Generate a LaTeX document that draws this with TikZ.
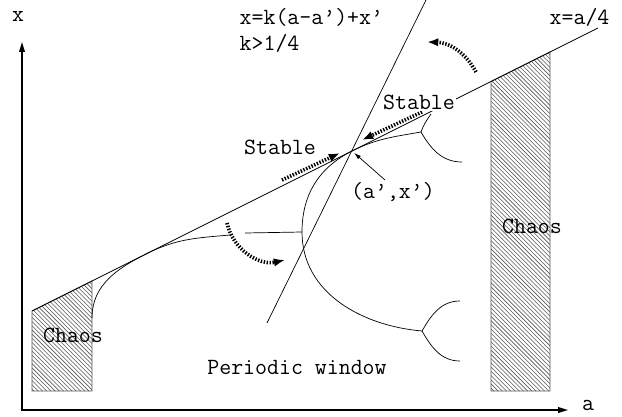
\documentclass[tikz,border=0pt]{standalone}
\usepackage{fontspec}
\usetikzlibrary{arrows.meta}
\usetikzlibrary{patterns}

\begin{document}
\begin{tikzpicture}[
    x=0.025cm, y=0.025cm,
    tag/.style={font=\ttfamily\fontsize{16.5}{18}\selectfont, inner sep=1pt},
    branch/.style={line width=0.5pt},
    axisline/.style={{Triangle[length=7pt,width=4pt]}-{Triangle[length=7pt,width=4pt]}, line width=0.9pt},
    chaosbox/.style={draw=black!65, line width=0.6pt, pattern=north west lines, pattern color=black!65},
    drift/.style={-{Latex[length=8pt,width=6pt]}, line width=2.6pt, dash pattern=on 1pt off 1.1pt},
    pointer/.style={-{Latex[length=5pt,width=3pt]}, line width=0.5pt, shorten >=2pt}
  ]
  \useasboundingbox (0,0) rectangle (622,416);
  \coordinate (o) at (22,6);
  \coordinate (ytip) at (22,374);
  \coordinate (xtip) at (568,6);
  \draw[axisline] (ytip) -- (o) -- (xtip);
  \node[tag] (xlab) at (18,399) {x};
  \node[tag] (alab) at (588,11) {a};

  \draw[chaosbox] (32,25) -- (32,105) -- (92,135) -- (92,25) -- cycle;
  \draw[chaosbox] (491,25) -- (491,334.5) -- (550,364) -- (550,25) -- cycle;

  \coordinate (lstart) at (32,105);
  \coordinate (lend) at (598,388);
  \coordinate (p) at (352,265);
  \coordinate (ktop) at (426,416);
  \coordinate (kbot) at (267,93);
  \draw[branch] (lstart) -- (lend);
  \draw[branch] (kbot) -- (ktop);

  \coordinate (c0) at (92,98);
  \coordinate (c1) at (147,162.5);
  \coordinate (c2) at (230,181);
  \coordinate (s0) at (245,183);
  \coordinate (v) at (302,184);
  \coordinate (u) at (421,284);
  \coordinate (d) at (422,85);
  \draw[branch] (c0) to[out=90,in=206.6] (c1) to[out=26.6,in=185] (c2);
  \draw[branch] (s0) -- (v);
  \draw[branch] (v) to[out=90,in=206.6] (p) to[out=26.6,in=190] (u);
  \draw[branch] (v) to[out=-90,in=175] (d);
  \draw[branch] (u) to[out=70,in=235] (431,302);
  \draw[branch] (u) to[out=-60,in=180] (462,254);
  \draw[branch] (d) to[out=60,in=180] (460,115);
  \draw[branch] (d) to[out=-60,in=180] (460,55);

  \coordinate (sl) at (282,236);
  \coordinate (slt) at (340,263);
  \coordinate (sr) at (422,304);
  \coordinate (srt) at (362,276);
  \draw[drift] (sl) -- (slt);
  \draw[drift] (sr) -- (srt);
  \coordinate (ta) at (476,344);
  \coordinate (tb) at (427,374);
  \coordinate (ba) at (227,193);
  \coordinate (bb) at (285,156);
  \draw[drift] (ta) to[bend right=30] (tb);
  \draw[drift] (ba) to[bend right=45] (bb);

  \node[tag, anchor=west] (kline) at (238,399) {x=k(a-a’)+x’};
  \node[tag, anchor=west] (kcond) at (238,373) {k>1/4};
  \node[tag, anchor=west] (aline) at (548,399) {x=a/4};
  \node[tag] (stl) at (280,269) {Stable};
  \node[tag, fill=white] (str) at (419,314) {Stable};
  \node[tag] (chl) at (73,81) {Chaos};
  \node[tag] (chr) at (532,190) {Chaos};
  \node[tag] (win) at (297,49) {Periodic window};
  \node[tag] (pt) at (393,224) {(a’,x’)};
  \coordinate (ptail) at (385,236);
  \draw[pointer] (ptail) -- (p);
\end{tikzpicture}
\end{document}
